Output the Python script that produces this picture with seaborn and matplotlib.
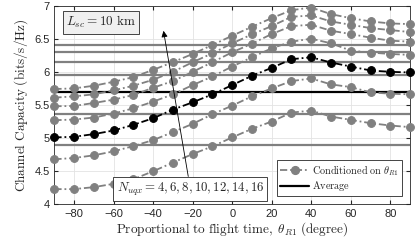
import numpy as np
import pandas as pd
import matplotlib
matplotlib.use("Agg")
import matplotlib.pyplot as plt
import seaborn as sns

# angulos (graus)
theta = [-90, -80, -70, -60, -50, -40, -30, -20, -10, 0, 10, 20, 30, 40, 50, 60, 70, 80, 90]

# capacidade condicionada, N_uqx = 4 ... 16 (de baixo para cima)
cap_n4 = [4.23, 4.23, 4.26, 4.31, 4.38, 4.50, 4.63, 4.76, 4.875, 5.01, 5.14, 5.25, 5.385, 5.415, 5.325, 5.275, 5.225, 5.19, 5.165]
cap_n6 = [4.68, 4.70, 4.74, 4.80, 4.88, 4.97, 5.09, 5.215, 5.36, 5.49, 5.63, 5.75, 5.86, 5.90, 5.81, 5.77, 5.69, 5.67, 5.66]
cap_n8 = [5.01, 5.02, 5.06, 5.115, 5.20, 5.30, 5.43, 5.54, 5.66, 5.80, 5.94, 6.06, 6.19, 6.22, 6.14, 6.08, 6.02, 6.00, 5.99]
cap_n10 = [5.27, 5.28, 5.31, 5.37, 5.45, 5.55, 5.66, 5.80, 5.93, 6.08, 6.22, 6.355, 6.455, 6.50, 6.43, 6.32, 6.29, 6.27, 6.255]
cap_n12 = [5.48, 5.485, 5.53, 5.58, 5.65, 5.76, 5.86, 6.00, 6.145, 6.295, 6.425, 6.57, 6.69, 6.71, 6.62, 6.57, 6.515, 6.47, 6.455]
cap_n14 = [5.61, 5.63, 5.66, 5.72, 5.79, 5.88, 6.00, 6.145, 6.28, 6.43, 6.565, 6.69, 6.83, 6.85, 6.76, 6.71, 6.66, 6.63, 6.60]
cap_n16 = [5.74, 5.75, 5.79, 5.85, 5.92, 6.03, 6.145, 6.27, 6.405, 6.545, 6.68, 6.81, 6.93, 6.97, 6.87, 6.81, 6.76, 6.73, 6.72]

# medias (linhas horizontais)
media = [4.90, 5.365, 5.70, 5.955, 6.155, 6.295, 6.405]

n_uqx = [4, 6, 8, 10, 12, 14, 16]
destaque = 8  # curva preta

sns.set_style("ticks")
plt.rcParams["mathtext.fontset"] = "cm"
plt.rcParams["font.family"] = ["Liberation Sans", "DejaVu Sans"]

series = [cap_n4, cap_n6, cap_n8, cap_n10, cap_n12, cap_n14, cap_n16]
df = pd.concat(
    [pd.DataFrame({"theta": theta, "cap": s, "N": n}) for s, n in zip(series, n_uqx)],
    ignore_index=True,
)

cinza = "#808080"
traco = (0, (4, 1.6, 1, 1.6))

fig = plt.figure(figsize=(4.15, 2.41), dpi=100)
ax = fig.add_axes([0.131, 0.152, 0.857, 0.825])

# medias
for n, m in zip(n_uqx, media):
    cor = "black" if n == destaque else cinza
    ax.axhline(m, color=cor, lw=1.6, zorder=2)

# curvas condicionadas
for n in n_uqx:
    cor = "black" if n == destaque else cinza
    sns.lineplot(
        data=df[df["N"] == n], x="theta", y="cap", ax=ax,
        color=cor, linestyle=traco, lw=1.3, marker="o", markersize=5.6,
        markeredgecolor=cor, zorder=3, legend=False, clip_on=False,
    )

ax.set_xlim(-90, 90)
ax.set_ylim(4, 7)
ax.set_xticks(np.arange(-80, 81, 20))
ax.set_yticks(np.arange(4, 7.01, 0.5))
ax.set_yticklabels(["4", "4.5", "5", "5.5", "6", "6.5", "7"])
ax.grid(True, color="#e3e3e3", lw=0.6, zorder=0)
ax.set_axisbelow(True)
ax.tick_params(direction="in", length=3, labelsize=8, colors="#262626", top=True, right=True)
for sp in ax.spines.values():
    sp.set_color("#262626")
    sp.set_linewidth(0.6)

ax.set_xlabel(r"$\mathrm{Proportional\ to\ flight\ time,\ }\theta_{R1}\mathrm{\ (degree)}$", fontsize=9.5, labelpad=1)
ax.set_ylabel(r"$\mathrm{Channel\ Capacity\ (bits/s/Hz)}$", fontsize=9.5, labelpad=3)

# legenda
h_cond = plt.Line2D([], [], color=cinza, linestyle=traco, lw=1.3, marker="o", markersize=5.6)
h_med = plt.Line2D([], [], color="black", lw=1.6)
leg = ax.legend(
    [h_cond, h_med],
    [r"$\mathrm{Conditioned\ on\ }\theta_{R1}$", r"$\mathrm{Average}$"],
    loc="lower right", bbox_to_anchor=(0.985, 0.025), fontsize=7.4, frameon=True, fancybox=False,
    handlelength=2.9, handletextpad=0.2, borderpad=0.3, labelspacing=0.15,
    borderaxespad=0.3,
)
leg.get_frame().set_edgecolor("#262626")
leg.get_frame().set_linewidth(0.6)
leg.get_frame().set_alpha(1)

# caixas de texto
caixa = dict(boxstyle="square,pad=0.25", fc="white", ec="#262626", lw=0.6)
ax.text(-84, 6.75, r"$L_{sc}=10\ \mathrm{km}$", fontsize=9.5, va="center", ha="left",
        bbox=dict(boxstyle="square,pad=0.25", fc="#f0f0f0", ec="#262626", lw=0.6), zorder=5)
ax.text(-58.5, 4.23, r"$N_{uqx}=4,6,8,10,12,14,16$", fontsize=9.3, va="center", ha="left",
        bbox=caixa, zorder=5)

ax.annotate("", xy=(-35, 6.66), xytext=(-22, 4.38),
            arrowprops=dict(arrowstyle="-|>", color="black", lw=0.6, mutation_scale=9),
            zorder=4)

fig.savefig("out.png", dpi=100)
